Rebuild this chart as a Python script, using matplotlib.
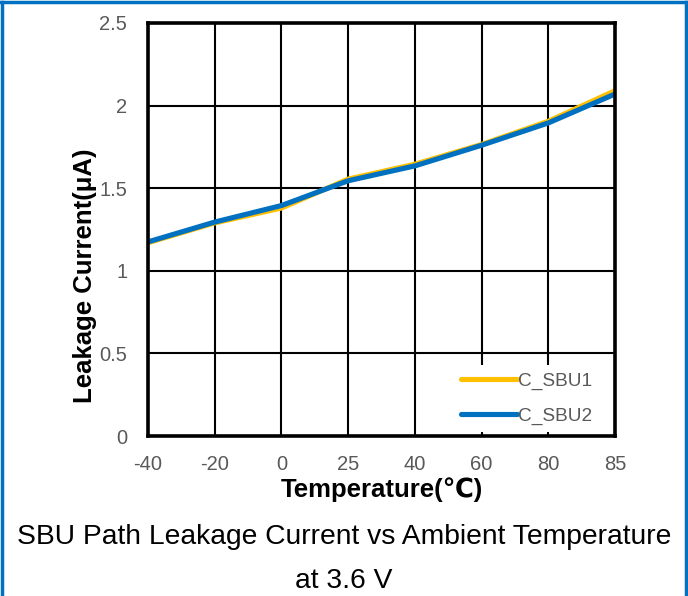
# -*- coding: utf-8 -*-
import numpy as np
import matplotlib.pyplot as plt
from matplotlib.lines import Line2D

# data
temps = ['-40', '-20', '0', '25', '40', '60', '80', '85']
c_sbu1 = [1.17, 1.29, 1.38, 1.555, 1.645, 1.765, 1.905, 2.09]
c_sbu2 = [1.175, 1.295, 1.395, 1.545, 1.635, 1.76, 1.895, 2.07]

gray = '#595959'
plt.rcParams['font.family'] = ['Liberation Sans', 'DejaVu Sans']

fig = plt.figure(figsize=(6.88, 5.96), dpi=100)
ax = fig.add_axes([148/688, 160/596, 467/688, 413/596])

x = np.arange(len(temps))
ax.plot(x, c_sbu1, color='#FFC000', lw=3.7, label='C_SBU1', solid_capstyle='round')
ax.plot(x, c_sbu2, color='#0070C0', lw=3.7, label='C_SBU2', solid_capstyle='round')

ax.set_xlim(0, len(temps) - 1)
ax.set_ylim(0, 2.5)
ax.set_xticks(x)
ax.set_xticklabels(temps)
ax.set_yticks([0, 0.5, 1, 1.5, 2, 2.5])
ax.set_yticklabels(['0', '0.5', '1', '1.5', '2', '2.5'])
ax.tick_params(length=0, labelsize=14.5, labelcolor=gray)
ax.tick_params(axis='x', pad=14)
ax.tick_params(axis='y', pad=15)
ax.grid(True, color='black', lw=1.5)
ax.set_axisbelow(True)
for s in ax.spines.values():
    s.set_linewidth(2.6)
    s.set_color('black')

ax.set_xlabel('Temperature(℃)', fontsize=18.5, fontweight='bold', labelpad=2)
ax.set_ylabel('Leakage Current(μA)', fontsize=18.5, fontweight='bold', va='center')
ax.yaxis.set_label_coords(-63/467, 160/413)

leg = ax.legend(loc='lower right', bbox_to_anchor=(1 - 11/467, 0), frameon=True,
                fontsize=13.7, handlelength=2.9, labelspacing=0.9, borderaxespad=0.2,
                handletextpad=0.1, labelcolor=gray)
leg.get_frame().set_edgecolor('none')
leg.get_frame().set_facecolor('white')
leg.get_frame().set_alpha(1)

fig.text(0.5, 1 - 537/596, 'SBU Path Leakage Current vs Ambient Temperature',
         ha='center', va='center', fontsize=20.3, color='black')
fig.text(0.5, 1 - 581/596, 'at 3.6 V', ha='center', va='center', fontsize=20.3, color='black')

# blue frame around the figure
blue = '#0070C0'
fig.add_artist(Line2D([1.5/688, 1.5/688], [0, 1 - 2/596], transform=fig.transFigure, color=blue, lw=2.5))
fig.add_artist(Line2D([686/688, 686/688], [0, 1 - 2/596], transform=fig.transFigure, color=blue, lw=2.5))
fig.add_artist(Line2D([0, 1], [1 - 2/596, 1 - 2/596], transform=fig.transFigure, color=blue, lw=2.5))

fig.savefig('out.png', dpi=100)
